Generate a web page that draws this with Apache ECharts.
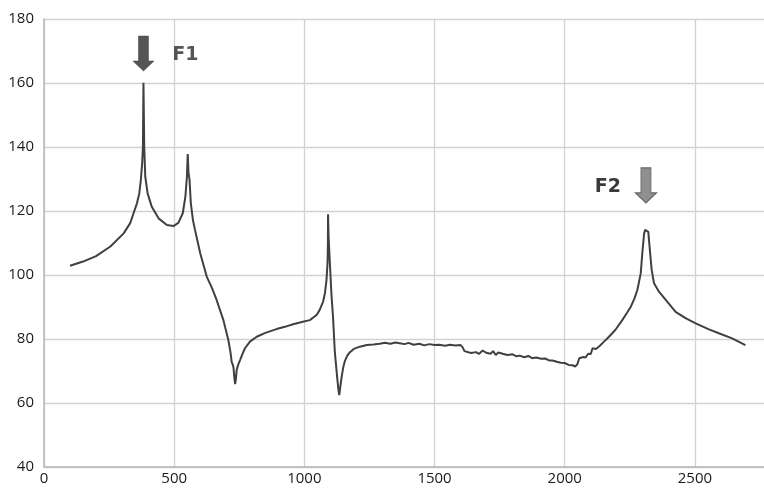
<!DOCTYPE html>
<html>
<head>
<meta charset="utf-8">
<script src="https://cdn.jsdelivr.net/npm/echarts@6/dist/echarts.min.js"></script>
<style>
html,body{margin:0;padding:0;background:#fff;overflow:hidden;}
#chart{width:764px;height:489px;}
</style>
</head>
<body>
<div id="chart"></div>
<script>
// Frequency (x) values of the response curve
var freq = [100,150,200,255,306,331,344,357,366,372,377,380,382,385,389,398,414,440,472,497,516,533,543,549,552,555,559,564,572,580,600,625,645,663,689,708,716,721,725,728,731,734,737,740,746,753,762,772,791,817,850,893,925,957,990,1021,1047,1059,1072,1079,1085,1089,1090.5,1091,1093,1098,1104,1110,1117,1126,1131,1134,1138,1143,1149,1155,1165,1174,1190,1213,1240,1265,1289,1310,1330,1350,1366,1385,1400,1420,1442,1460,1480,1500,1519,1540,1560,1580,1600,1608,1615,1621,1640,1660,1670,1685,1698,1715,1725,1735,1745,1762,1780,1800,1815,1826,1845,1860,1875,1890,1910,1925,1940,1953,1970,1985,2000,2015,2030,2040,2048,2056,2062,2072,2080,2090,2100,2107,2120,2135,2150,2170,2195,2221,2240,2254,2268,2279,2292,2298,2305,2309,2315,2321,2326,2334,2343,2362,2388,2426,2464,2503,2554,2592,2643,2694];
// Amplitude (y) values
var amp = [102.9,104.2,105.9,108.9,113.0,116.2,119.3,122.4,125.5,129.7,134.9,140.1,160.1,140.0,130.7,125.5,121.3,117.7,115.6,115.3,116.3,119.3,124.5,130.7,137.8,132.0,129.7,122.4,117.2,114.1,106.8,99.5,96.0,92.2,85.9,79.7,76.0,72.8,72.0,71.0,68.0,65.9,67.5,70.3,72.0,73.4,75.3,77.1,79.2,80.7,81.9,83.1,83.8,84.6,85.3,85.9,87.5,89.1,91.7,94.3,98.4,103.7,110.0,119.0,112.0,103.7,94.0,87.0,76.0,68.0,64.0,62.5,65.0,68.0,71.0,73.0,74.8,75.8,76.9,77.6,78.1,78.3,78.5,78.8,78.5,78.9,78.7,78.4,78.8,78.2,78.5,78.0,78.4,78.1,78.2,77.9,78.2,78.0,78.1,77.4,76.2,75.8,75.6,75.9,75.3,76.4,75.7,75.4,76.2,75.0,75.8,75.4,75.0,75.2,74.6,74.8,74.3,74.7,74.0,74.2,73.8,73.9,73.3,73.3,72.9,72.6,72.5,71.9,71.8,71.4,72.0,74.0,73.6,74.4,74.2,75.4,75.3,77.1,76.9,77.9,79.1,80.7,82.9,85.9,88.3,90.1,92.7,95.3,100.5,106.8,113.0,114.1,114.1,113.5,108.8,101.6,97.4,94.8,92.2,88.5,86.5,84.9,83.0,81.8,80.2,78.1];
// Axis ticks
var xTicks = [0,500,1000,1500,2000,2500];
var yTicks = [40,60,80,100,120,140,160,180];
// Annotations
var markerNames = ['F1','F2'];
var markerX = [382,2312];
var markerY = [169.2,128.0];

var lineData = freq.map(function(f,i){return [f, amp[i]];});

var arrowPath = 'path://M5.5,0 L15.5,0 L15.5,25 L21,25 L10.5,35 L0,25 L5.5,25 Z';

var chart = echarts.init(document.getElementById('chart'), null, {renderer:'canvas'});
chart.setOption({
  animation:false,
  backgroundColor:'#fff',
  grid:{left:44, top:19, width:729, height:448, containLabel:false, outerBoundsMode:'none'},
  xAxis:{
    type:'value', min:xTicks[0], max:2800, interval:500,
    axisLine:{show:true, lineStyle:{color:'#b8b8b8', width:1.5}},
    axisTick:{show:false},
    splitLine:{show:true, showMaxLine:false, lineStyle:{color:'#d2d2d2', width:1.3}},
    axisLabel:{color:'#1a1a1a', fontSize:15, fontFamily:'Open Sans', margin:4, showMaxLabel:false,
               formatter:function(v){return String(v);}}
  },
  yAxis:{
    type:'value', min:yTicks[0], max:yTicks[yTicks.length-1], interval:20,
    axisLine:{show:true, lineStyle:{color:'#b8b8b8', width:1.5}},
    axisTick:{show:false},
    splitLine:{show:true, lineStyle:{color:'#d2d2d2', width:1.3}},
    axisLabel:{color:'#1a1a1a', fontSize:15, fontFamily:'Open Sans', margin:10}
  },
  series:[{
    type:'line',
    data:lineData,
    showSymbol:false,
    smooth:false,
    lineStyle:{color:'#404040', width:2},
    markPoint:{
      symbol:arrowPath,
      symbolSize:[21,35],
      silent:true,
      data:[
        {name:markerNames[0], coord:[markerX[0], markerY[0]],
         itemStyle:{color:'#555555', borderColor:'#444', borderWidth:0.5},
         label:{show:true, position:'right', distance:18, offset:[0,2], formatter:markerNames[0],
                color:'#555', fontSize:19, fontWeight:'bold', fontFamily:'DejaVu Sans'}},
        {name:markerNames[1], coord:[markerX[1], markerY[1]],
         itemStyle:{color:'#8f8f8f', borderColor:'#666', borderWidth:1},
         label:{show:true, position:'left', distance:14, offset:[0,2], formatter:markerNames[1],
                color:'#3a3a3a', fontSize:19, fontWeight:'bold', fontFamily:'DejaVu Sans'}}
      ]
    }
  }]
});
</script>
</body>
</html>
